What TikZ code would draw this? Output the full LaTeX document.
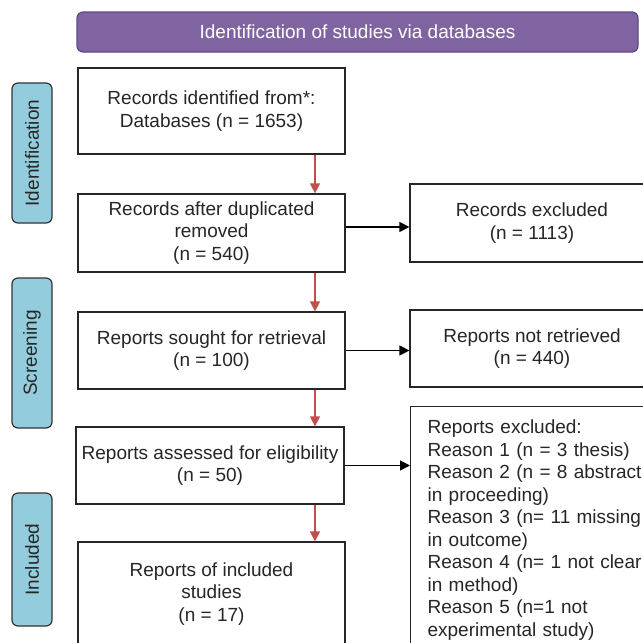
\documentclass[tikz,border=0pt]{standalone}
\usepackage{fontspec}
\setmainfont{Liberation Sans}
\usetikzlibrary{arrows.meta}
\definecolor{titrefond}{HTML}{8064A2}
\definecolor{titrebord}{HTML}{5E4A82}
\definecolor{bleuphase}{HTML}{93CDDD}
\definecolor{rougefleche}{HTML}{C0504D}
\newcommand{\texte}{\fontsize{19}{22.5}\selectfont}
\begin{document}
\begin{tikzpicture}[x=1pt,y=-1pt,
    boite/.style={draw=black!85,line width=1.2pt,fill=white,align=center,inner sep=0pt,text=black!85,font=\texte},
    titre/.style={draw=titrebord,line width=1.2pt,fill=titrefond,rounded corners=6pt,text=white,font=\texte},
    phase/.style={draw=black!80,line width=1.2pt,fill=bleuphase,rounded corners=6pt,rotate=90,minimum height=40pt,inner sep=0pt,text=black!85,font=\texte},
    fleche rouge/.style={draw=rougefleche,line width=1.2pt,-{Triangle[length=10pt,width=10pt]}},
    fleche/.style={draw=black,line width=1.2pt,-{Triangle[length=10pt,width=10pt]}}]
    % Zone de l'image (les boites de droite et du bas sont coupees)
    \clip (0,0) rectangle (643,643);
    % Bandeau du haut
    \node[titre, minimum width=561pt, minimum height=40pt] (titre) at (357.5,32) {Identification of studies via databases};
    % Phases a gauche
    \node[phase, minimum width=140pt] (ident) at (32,153) {Identification};
    \node[phase, minimum width=150pt] (screen) at (32,353) {Screening};
    \node[phase, minimum width=133pt] (inclu) at (32,559.5) {Included};
    % Colonne principale
    \node[boite, minimum width=267pt, minimum height=86pt] (rec) at (211.5,111) {Records identified from*:\\Databases (n = 1653)};
    \node[boite, minimum width=267pt, minimum height=78pt] (dup) at (211.5,233) {Records after duplicated\\removed\\(n = 540)};
    \node[boite, minimum width=267pt, minimum height=77pt] (sought) at (211.5,350.5) {Reports sought for retrieval\\(n = 100)};
    \node[boite, minimum width=268pt, minimum height=77pt] (elig) at (210,465.5) {Reports assessed for eligibility\\(n = 50)};
    \node[boite, minimum width=267pt, minimum height=104pt] (incl) at (211.5,594) {Reports of included\\studies\\(n = 17)};
    % Colonne des exclusions
    \node[boite, minimum width=244pt, minimum height=78pt] (excl) at (532,223) {Records excluded\\(n = 1113)};
    \node[boite, minimum width=244pt, minimum height=77pt] (nonrec) at (532,348.5) {Reports not retrieved\\(n = 440)};
    \node[boite, anchor=north west, align=left, text width=220pt, inner xsep=17pt, minimum height=247pt] (raisons) at (410,406)
        {Reports excluded:\\Reason 1 (n = 3 thesis)\\Reason 2 (n = 8 abstract\\in proceeding)\\Reason 3 (n= 11 missing\\in outcome)\\Reason 4 (n= 1 not clear\\in method)\\Reason 5 (n=1 not\\experimental study)};
    % Fleches rouges verticales
    \coordinate (axe) at (315,0);
    \foreach \a/\b in {rec/dup,dup/sought,sought/elig,elig/incl} {
        \draw[fleche rouge] (axe |- \a.south) -- (axe |- \b.north);}
    % Fleches vers les exclusions
    \draw[fleche] ([yshift=6pt]dup.east) -- ([yshift=6pt]dup.east -| excl.west);
    \draw[fleche] (sought.east) -- (sought.east -| nonrec.west);
    \draw[fleche] (elig.east) -- (elig.east -| raisons.west);
\end{tikzpicture}
\end{document}
